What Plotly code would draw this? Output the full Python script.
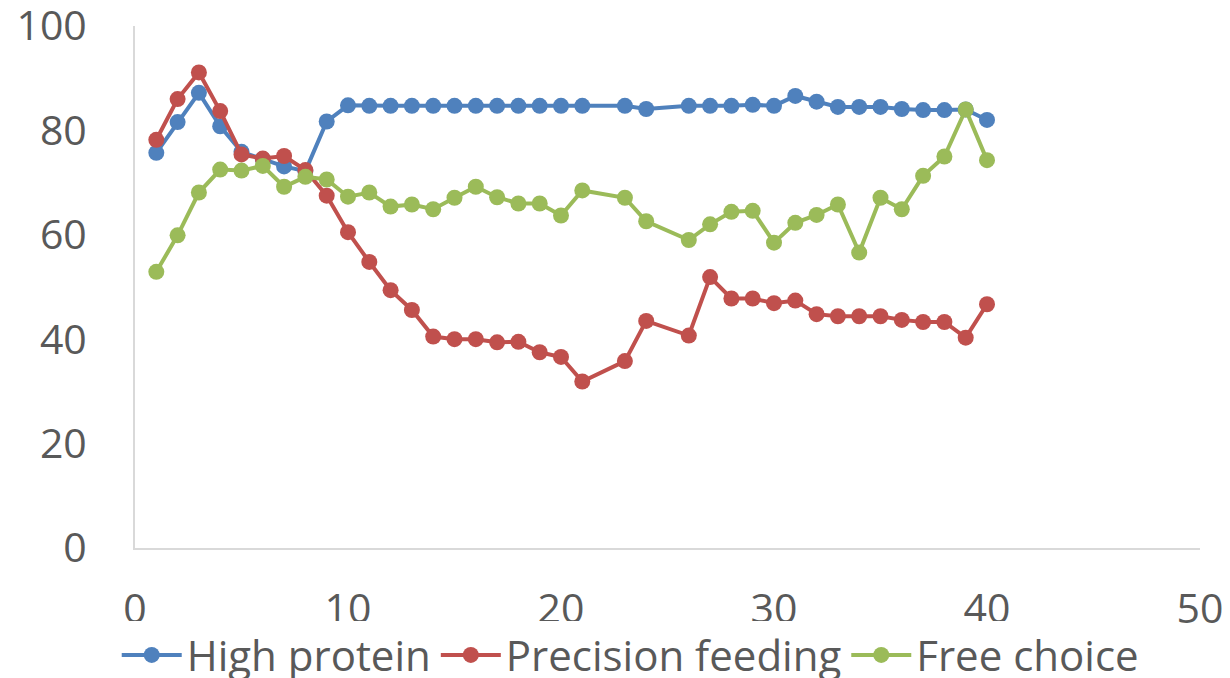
import plotly.graph_objects as go

days = [1, 2, 3, 4, 5, 6, 7, 8, 9, 10, 11, 12, 13, 14, 15, 16, 17, 18, 19, 20,
        21, 23, 24, 26, 27, 28, 29, 30, 31, 32, 33, 34, 35, 36, 37, 38, 39, 40]

high_protein = [75.7, 81.6, 87.2, 80.8, 75.9, 74.5, 73.1, 72.2, 81.7, 84.8,
                84.7, 84.7, 84.7, 84.7, 84.7, 84.7, 84.7, 84.7, 84.7, 84.7,
                84.7, 84.7, 84.1, 84.7, 84.7, 84.7, 84.9, 84.7, 86.6, 85.5,
                84.5, 84.5, 84.5, 84.1, 83.9, 83.9, 84.0, 82.0]

precision_feeding = [78.2, 86.0, 91.1, 83.7, 75.4, 74.6, 75.1, 72.4, 67.5, 60.5,
                     54.8, 49.4, 45.6, 40.5, 40.0, 40.0, 39.4, 39.5, 37.5, 36.6,
                     31.9, 35.8, 43.5, 40.7, 51.9, 47.8, 47.8, 46.9, 47.4, 44.8,
                     44.4, 44.4, 44.4, 43.7, 43.3, 43.3, 40.3, 46.7]

free_choice = [52.9, 59.9, 68.1, 72.5, 72.3, 73.2, 69.2, 71.1, 70.6, 67.3,
               68.1, 65.4, 65.8, 64.9, 67.1, 69.2, 67.2, 66.0, 66.0, 63.7,
               68.5, 67.1, 62.6, 59.0, 62.0, 64.4, 64.6, 58.5, 62.3, 63.8,
               65.8, 56.6, 67.1, 64.9, 71.3, 75.0, 84.0, 74.3]

series = [
    ("High protein", high_protein, "#4F81BD"),
    ("Precision feeding", precision_feeding, "#C0504D"),
    ("Free choice", free_choice, "#9BBB59"),
]

fig = go.Figure()
for name, vals, col in series:
    fig.add_trace(go.Scatter(x=days, y=vals, mode="lines+markers", name=name,
                             line=dict(color=col, width=4),
                             marker=dict(color=col, size=16)))

# the page adds an 8px body margin, so the figure is offset inside the window
fig.update_layout(
    width=1214, height=670,
    margin=dict(l=127, r=22, t=18, b=130, autoexpand=False),
    plot_bgcolor="white", paper_bgcolor="white",
    font=dict(family="Open Sans", size=41, color="#595959"),
    legend=dict(orientation="h", x=0.465, xanchor="center", y=-0.14, yanchor="top",
                itemwidth=60, font=dict(size=42)),
)
fig.update_xaxes(range=[0, 50], dtick=10, showgrid=False, zeroline=False,
                 showline=True, linecolor="#d9d9d9", linewidth=2,
                 ticklabelstandoff=24, automargin=False, ticklabeloverflow="allow")
fig.update_yaxes(range=[0, 100], dtick=20, showgrid=False, zeroline=False,
                 showline=True, linecolor="#d9d9d9", linewidth=2,
                 ticklabelstandoff=38, automargin=False, ticklabeloverflow="allow")

fig.write_html("out.html")
